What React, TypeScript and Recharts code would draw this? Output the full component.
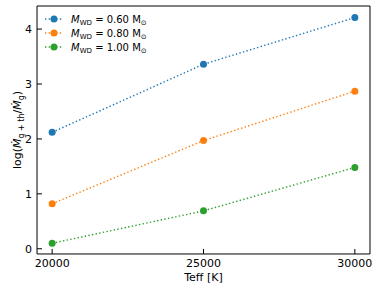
import React from "react";
import {
  LineChart,
  Line,
  XAxis,
  YAxis,
  Legend,
} from "recharts";

const teff = [20000, 25000, 30000];
const mwd060 = [2.12, 3.36, 4.21];
const mwd080 = [0.82, 1.97, 2.87];
const mwd100 = [0.1, 0.69, 1.48];
const massLabels = ["0.60", "0.80", "1.00"];
const colors = ["#1f77b4", "#ff7f0e", "#2ca02c"];

const xMajor = [20000, 25000, 30000];
const xMinor = [21000, 22000, 23000, 24000, 26000, 27000, 28000, 29000];
const yMajor = [0, 1, 2, 3, 4];
const yMinor = [0.2, 0.4, 0.6, 0.8, 1.2, 1.4, 1.6, 1.8, 2.2, 2.4, 2.6, 2.8, 3.2, 3.4, 3.6, 3.8, 4.2, 4.4];

const data = teff.map((t, i) => ({
  teff: t,
  m060: mwd060[i],
  m080: mwd080[i],
  m100: mwd100[i],
}));

const xDomain = [19500, 30500];
const yDomain = [-0.095, 4.42];
const frame = "#000";
const font = "DejaVu Sans";
const thin = 0.01;
const dash = "1.4 2.3";

function LegendBox({ payload }: any) {
  return (
    <svg width={130} height={50} style={{ display: "block" }}>
      {(payload || []).map((p: any, i: number) => {
        const cy = 9 + i * 14;
        return (
          <g key={i}>
            <line x1={5} x2={22} y1={cy} y2={cy} stroke={p.color} strokeWidth={1.4} strokeDasharray={dash} />
            <circle cx={14} cy={cy} r={3.5} fill={p.color} />
            <text x={31} y={cy + 3.5} fontSize={10} fontFamily={font} fill="#000">
              <tspan fontStyle="italic">M</tspan>
              <tspan fontSize={7} dy={2}>WD</tspan>
              <tspan dy={-2}>{` = ${p.value} M`}</tspan>
              <tspan fontSize={7} dy={2}>⊙</tspan>
            </text>
          </g>
        );
      })}
    </svg>
  );
}

function YLabel({ viewBox }: any) {
  const x = viewBox.x - 20;
  const y = viewBox.y + viewBox.height / 2;
  return (
    <text transform={`translate(${x},${y}) rotate(-90)`} textAnchor="middle" fontSize={11} fontFamily={font} fill="#000" dy="0.35em">
      <tspan>log(</tspan>
      <tspan fontStyle="italic">Ṁ</tspan>
      <tspan fontSize={8} dy={3}>g + th</tspan>
      <tspan dy={-3}>/</tspan>
      <tspan fontStyle="italic">Ṁ</tspan>
      <tspan fontSize={8} dy={3}>g</tspan>
      <tspan dy={-3}>)</tspan>
    </text>
  );
}

function XLabel({ viewBox }: any) {
  return (
    <text x={viewBox.x + viewBox.width / 2} y={viewBox.y + 27} textAnchor="middle" fontSize={11} fontFamily={font} fill="#000">
      Teff [K]
    </text>
  );
}

export default function App() {
  const tickStyle = { fill: "#000", fontSize: 11, fontFamily: font };
  return (
    <div style={{ position: "absolute", left: 0, top: 0 }}>
      <LineChart width={380} height={291} data={data} margin={{ top: 6, right: 10, bottom: 37, left: 37 }}>
        <XAxis dataKey="teff" type="number" domain={xDomain} ticks={xMajor} allowDataOverflow height={thin}
          tickSize={-5} tickMargin={10} tick={tickStyle} stroke={frame} tickLine={{ stroke: frame }}
          label={<XLabel />} />
        <XAxis xAxisId="xminb" dataKey="teff" type="number" domain={xDomain} ticks={xMinor} allowDataOverflow height={thin}
          tickSize={-2.8} tick={false} axisLine={false} tickLine={{ stroke: frame }} />
        <XAxis xAxisId="xtop" orientation="top" dataKey="teff" type="number" domain={xDomain} ticks={xMajor} allowDataOverflow height={thin}
          tickSize={-5} tick={false} stroke={frame} tickLine={{ stroke: frame }} />
        <XAxis xAxisId="xmint" orientation="top" dataKey="teff" type="number" domain={xDomain} ticks={xMinor} allowDataOverflow height={thin}
          tickSize={-2.8} tick={false} axisLine={false} tickLine={{ stroke: frame }} />
        <YAxis type="number" domain={yDomain} ticks={yMajor} allowDataOverflow width={thin}
          tickSize={-5} tickMargin={10} tick={tickStyle} stroke={frame} tickLine={{ stroke: frame }}
          label={<YLabel />} />
        <YAxis yAxisId="yminl" type="number" domain={yDomain} ticks={yMinor} allowDataOverflow width={thin}
          tickSize={-2.8} tick={false} axisLine={false} tickLine={{ stroke: frame }} />
        <YAxis yAxisId="yright" orientation="right" type="number" domain={yDomain} ticks={yMajor} allowDataOverflow width={thin}
          tickSize={-5} tick={false} stroke={frame} tickLine={{ stroke: frame }} />
        <YAxis yAxisId="yminr" orientation="right" type="number" domain={yDomain} ticks={yMinor} allowDataOverflow width={thin}
          tickSize={-2.8} tick={false} axisLine={false} tickLine={{ stroke: frame }} />
        <Legend layout="vertical" align="center" verticalAlign="middle" content={<LegendBox />}
          wrapperStyle={{ left: 40, top: 10, width: 130, height: 50 }} />
        {[mwd060, mwd080, mwd100].map((_, i) => (
          <Line key={i} dataKey={["m060", "m080", "m100"][i]} name={massLabels[i]} stroke={colors[i]} strokeWidth={1.4}
            strokeDasharray={dash} dot={{ r: 3.5, fill: colors[i], stroke: "none" }} activeDot={false}
            isAnimationActive={false} />
        ))}
      </LineChart>
    </div>
  );
}
